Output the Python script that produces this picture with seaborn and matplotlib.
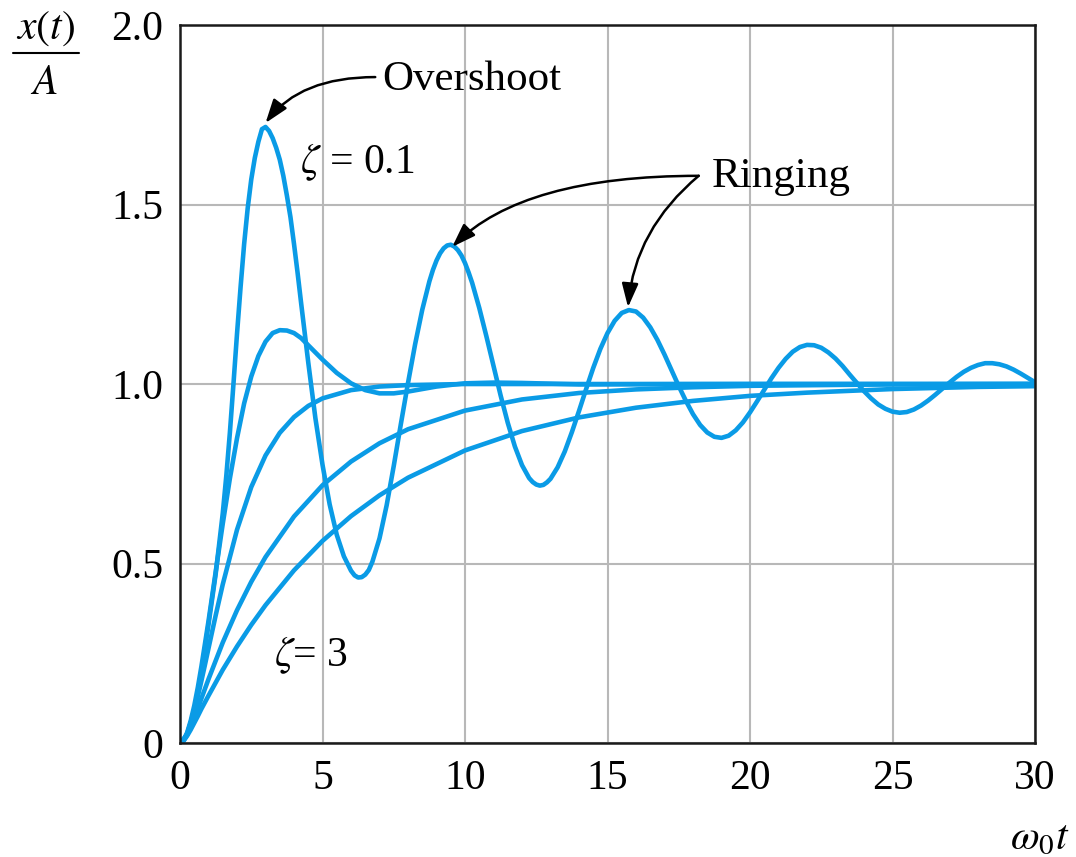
import matplotlib
matplotlib.use("Agg")
import matplotlib.pyplot as plt
from matplotlib.lines import Line2D
import numpy as np
import pandas as pd
import seaborn as sns

# step response x(t)/A vs w0*t for each damping ratio
# zeta = 0.1: denser readings around the first swings, then every 0.25
t_z01 = np.concatenate([
    [0, 0.25, 0.5, 0.75, 1.0, 1.25, 1.5, 1.625, 1.75, 1.875, 2.0, 2.125,
     2.25, 2.375, 2.5, 2.625, 2.75, 2.875, 3.0, 3.125, 3.25, 3.375, 3.5,
     3.625, 3.75, 3.875, 4.0, 4.125, 4.25, 4.5, 4.75, 5.0, 5.25, 5.5, 5.75,
     6.0, 6.125, 6.25, 6.375, 6.5, 6.625, 6.75, 7.0, 7.25, 7.5, 7.75, 8.0,
     8.25, 8.5, 8.75, 8.875, 9.0, 9.125, 9.25, 9.375, 9.5, 9.625, 9.75,
     9.875, 10.0, 10.125, 10.25, 10.5, 10.75, 11.0, 11.25, 11.5, 11.75,
     12.0, 12.25, 12.375, 12.5, 12.625, 12.75, 12.875, 13.0],
    np.arange(13.25, 30.01, 0.25),
])
resp_z01 = [
    0.000, 0.024, 0.090, 0.195, 0.330, 0.470, 0.640, 0.745, 0.865, 1.000,
    1.140, 1.270, 1.390, 1.490, 1.570, 1.630, 1.675, 1.710, 1.716, 1.705,
    1.685, 1.658, 1.625, 1.580, 1.525, 1.465, 1.390, 1.310, 1.225, 1.060,
    0.905, 0.775, 0.665, 0.580, 0.520, 0.480, 0.467, 0.461, 0.462, 0.469,
    0.482, 0.505, 0.570, 0.662, 0.772, 0.889, 1.003, 1.111, 1.207, 1.286,
    1.318, 1.344, 1.364, 1.378, 1.386, 1.388, 1.383, 1.373, 1.358, 1.337,
    1.311, 1.282, 1.212, 1.133, 1.050, 0.968, 0.892, 0.826, 0.774, 0.738,
    0.727, 0.720, 0.717, 0.719, 0.726, 0.736,
    # from 13.25 on
    0.768, 0.812, 0.866, 0.925, 0.986, 1.045,
    1.098, 1.142, 1.176, 1.198, 1.206, 1.202, 1.185, 1.158,
    1.123, 1.082, 1.038, 0.994, 0.953, 0.916, 0.886, 0.865,
    0.853, 0.850, 0.856, 0.871, 0.893, 0.921, 0.952, 0.984,
    1.016, 1.045, 1.070, 1.090, 1.103, 1.109, 1.108, 1.101,
    1.088, 1.071, 1.050, 1.026, 1.003, 0.980, 0.960, 0.943,
    0.931, 0.923, 0.920, 0.922, 0.929, 0.940, 0.954, 0.970,
    0.987, 1.004, 1.020, 1.034, 1.045, 1.053, 1.058, 1.058,
    1.055, 1.049, 1.040, 1.029, 1.017, 1.005,
]

t_z05 = [0, 0.125, 0.25, 0.375, 0.5, 0.625, 0.75, 1, 1.25, 1.5, 1.75, 2,
         2.25, 2.5, 2.75, 3, 3.25, 3.5, 3.75, 4, 4.25, 4.5, 5, 5.5, 6, 6.5, 7,
         7.5, 8, 9, 10, 11, 12, 14, 20, 30]
resp_z05 = [0.000, 0.008, 0.029, 0.062, 0.104, 0.155, 0.213, 0.340, 0.476,
            0.611, 0.737, 0.849, 0.946, 1.021, 1.078, 1.118, 1.142, 1.150,
            1.149, 1.142, 1.128, 1.108, 1.068, 1.031, 1.002, 0.983, 0.974,
            0.974, 0.979, 0.993, 1.002, 1.004, 1.003, 0.999, 1.000, 1.000]

t_z1 = [0, 0.125, 0.25, 0.375, 0.5, 0.625, 0.75, 0.875, 1, 1.25, 1.5, 2, 2.5,
        3, 3.5, 4, 4.5, 5, 6, 7, 8, 10, 15, 20, 30]
resp_z1 = [0.000, 0.007, 0.026, 0.055, 0.090, 0.130, 0.173, 0.218, 0.264,
           0.355, 0.442, 0.594, 0.713, 0.801, 0.864, 0.908, 0.939, 0.960,
           0.983, 0.993, 0.997, 1.000, 1.000, 1.000, 1.000]

t_z2 = [0, 0.125, 0.25, 0.375, 0.5, 0.625, 0.75, 1, 1.5, 2, 2.5, 3, 4, 5, 6,
        7, 8, 10, 12, 14, 16, 18, 20, 25, 30]
resp_z2 = [0.000, 0.007, 0.023, 0.045, 0.070, 0.096, 0.124, 0.178, 0.280,
           0.370, 0.449, 0.518, 0.631, 0.718, 0.784, 0.835, 0.874, 0.926,
           0.957, 0.975, 0.985, 0.991, 0.995, 0.999, 1.000]

t_z3 = [0, 0.125, 0.25, 0.375, 0.5, 0.625, 0.75, 1, 1.5, 2, 2.5, 3, 4, 5, 6,
        7, 8, 10, 12, 14, 16, 18, 20, 22, 25, 28, 30]
resp_z3 = [0.000, 0.006, 0.020, 0.037, 0.056, 0.075, 0.095, 0.132, 0.204,
           0.269, 0.329, 0.384, 0.481, 0.563, 0.632, 0.690, 0.739, 0.815,
           0.869, 0.907, 0.934, 0.953, 0.967, 0.976, 0.986, 0.992, 0.994]

x_ticks = [0, 5, 10, 15, 20, 25, 30]
y_ticks = [0, 0.5, 1.0, 1.5, 2.0]
y_ticklabels = ["0", "0.5", "1.0", "1.5", "2.0"]

CURVE_COLOR = "#0a9be6"


def build_frame() -> pd.DataFrame:
    parts = [
        pd.DataFrame({"t": t_z01, "x": resp_z01, "zeta": 0.1}),
        pd.DataFrame({"t": t_z05, "x": resp_z05, "zeta": 0.5}),
        pd.DataFrame({"t": t_z1, "x": resp_z1, "zeta": 1.0}),
        pd.DataFrame({"t": t_z2, "x": resp_z2, "zeta": 2.0}),
        pd.DataFrame({"t": t_z3, "x": resp_z3, "zeta": 3.0}),
    ]
    return pd.concat(parts, ignore_index=True)


def main() -> None:
    sns.set_theme(style="white")
    plt.rcParams["font.family"] = ["Liberation Serif", "DejaVu Serif"]
    plt.rcParams["mathtext.fontset"] = "stix"
    plt.rcParams["text.color"] = "black"

    df = build_frame()

    fig = plt.figure(figsize=(10.76, 8.57), dpi=100)
    ax = fig.add_axes([0.1673, 0.1330, 0.7946, 0.8378])

    sns.lineplot(
        data=df, x="t", y="x", units="zeta", estimator=None, sort=False,
        color=CURVE_COLOR, linewidth=3.3, ax=ax, legend=False,
    )

    ax.set_xlim(0, 30)
    ax.set_ylim(0, 2.0)
    ax.set_xticks(x_ticks)
    ax.set_xticklabels([str(v) for v in x_ticks])
    ax.set_yticks(y_ticks)
    ax.set_yticklabels(y_ticklabels)
    ax.set_xlabel("")
    ax.set_ylabel("")
    ax.tick_params(axis="both", length=0, labelsize=30, pad=12, colors="black")
    ax.grid(True, color="#b8b8b8", linewidth=1.5)
    ax.set_axisbelow(True)
    for spine in ax.spines.values():
        spine.set_color("#1a1a1a")
        spine.set_linewidth(1.8)

    # labels on the curves
    ax.text(4.2, 1.618, r"$\zeta$ = 0.1", fontsize=30, va="center", ha="left")
    ax.text(3.3, 0.245, r"$\zeta$= 3", fontsize=30, va="center", ha="left")
    ax.text(7.1, 1.847, "Overshoot", fontsize=31, va="center", ha="left")
    ax.text(18.65, 1.577, "Ringing", fontsize=31, va="center", ha="left")

    arrow = dict(arrowstyle="-|>,head_length=0.72,head_width=0.25",
                 mutation_scale=20, color="black", lw=1.8,
                 shrinkA=0, shrinkB=0)
    ax.annotate("", xy=(3.0, 1.727), xytext=(6.85, 1.855),
                arrowprops=dict(arrow, connectionstyle="angle3,angleA=0,angleB=53"))
    ax.annotate("", xy=(9.55, 1.382), xytext=(18.2, 1.58),
                arrowprops=dict(arrow, connectionstyle="angle3,angleA=0,angleB=45"))
    ax.annotate("", xy=(15.72, 1.214), xytext=(18.2, 1.58),
                arrowprops=dict(arrow, connectionstyle="angle3,angleA=40,angleB=85"))

    # axis titles drawn as in the textbook figure
    fig.text(0.0418, 0.966, r"$x(t)$", fontsize=30, ha="center", va="center")
    fig.add_artist(Line2D([0.0125, 0.0735], [0.9382, 0.9382],
                          transform=fig.transFigure, color="black", lw=1.5))
    fig.text(0.0405, 0.902, r"$A$", fontsize=30, ha="center", va="center")
    fig.text(0.9665, 0.022, r"$\omega_0 t$", fontsize=30, ha="center", va="center")

    fig.savefig("out.png", dpi=100)
    plt.close(fig)


if __name__ == "__main__":
    main()
